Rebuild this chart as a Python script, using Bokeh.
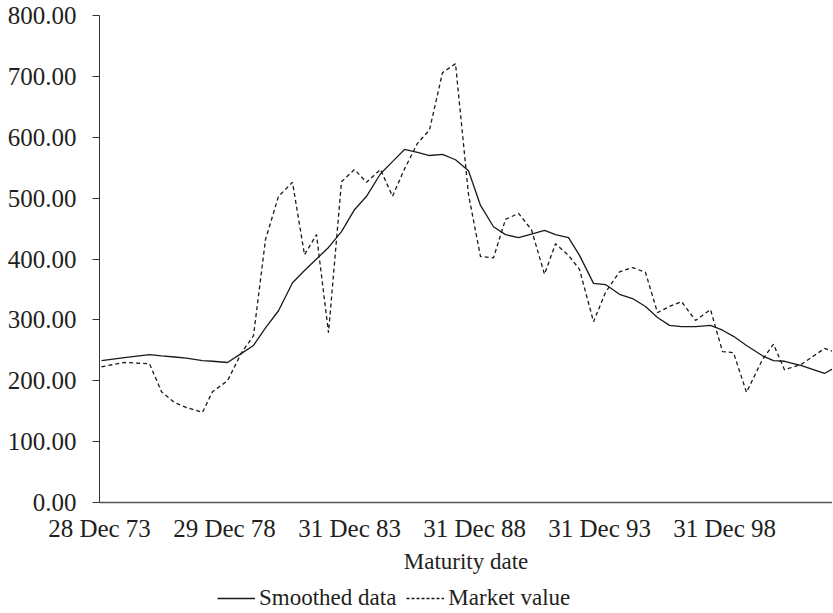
from bokeh.plotting import figure
from bokeh.layouts import column
from bokeh.models import (FixedTicker, Legend, LegendItem, Range1d,
                          NumeralTickFormatter)
from bokeh.embed import file_html
from bokeh.resources import INLINE

# maturity as decimal years
maturity = [1974.07, 1974.99, 1975.99, 1976.47, 1976.99, 1977.47, 1978.11, 1978.51,
            1979.11, 1979.67, 1980.15, 1980.63, 1981.15, 1981.71, 1982.19, 1982.67,
            1983.15, 1983.67, 1984.19, 1984.67, 1985.23, 1985.71, 1986.19, 1986.71,
            1987.19, 1987.71, 1988.23, 1988.75, 1989.23, 1989.75, 1990.23, 1990.75,
            1991.27, 1991.79, 1992.23, 1992.75, 1993.19, 1993.75, 1994.23, 1994.79,
            1995.31, 1995.83, 1996.31, 1996.79, 1997.27, 1997.83, 1998.43, 1998.91,
            1999.35, 1999.87, 2000.51, 2000.95, 2001.39, 2002.07, 2002.99, 2003.47]

smoothed = [233, 238, 243, 241, 239, 237, 233, 232, 230, 245, 258, 287, 315, 361,
            381, 400, 419, 445, 481, 503, 540, 560, 580, 575, 570, 572, 563, 545,
            488, 453, 440, 435, 441, 447, 440, 435, 406, 360, 358, 342, 335, 322,
            304, 291, 289, 289, 291, 283, 273, 258, 241, 233, 232, 225, 212, 223]

market = [223, 230, 228, 182, 164, 156, 148, 182, 200, 246, 274, 432, 503, 526,
          407, 440, 279, 527, 547, 526, 547, 503, 548, 590, 612, 706, 721, 506,
          404, 402, 465, 475, 448, 375, 425, 406, 383, 297, 345, 379, 386, 378,
          312, 322, 330, 299, 317, 248, 246, 181, 235, 260, 218, 227, 253, 246]

x_tick_values = [1973.99, 1978.99, 1983.997, 1988.997, 1993.997, 1998.997]
x_tick_labels = ["28 Dec 73", "29 Dec 78", "31 Dec 83", "31 Dec 88", "31 Dec 93", "31 Dec 98"]
y_tick_values = [0, 100, 200, 300, 400, 500, 600, 700, 800]
series_names = ["Smoothed data", "Market value"]

FONT = "Liberation Serif"
TXT = "#231f20"
LINE = "#1a1a1a"
FS = "23px"
FS_TICK = "25px"

p = figure(frame_width=733, frame_height=487, output_backend="svg", toolbar_location=None,
           x_range=Range1d(1973.99, 2003.31), y_range=Range1d(0, 800))
p.min_border_left = 99
p.min_border_right = 0
p.min_border_top = 15
p.min_border_bottom = 80
p.outline_line_color = None
p.grid.visible = False
p.background_fill_color = "white"
p.border_fill_color = "white"

p.line(maturity, smoothed, line_color=LINE, line_width=1.3)
p.line(maturity, market, line_color=LINE, line_width=1.3, line_dash="4 3")

xa = p.xaxis[0]
xa.ticker = FixedTicker(ticks=x_tick_values)
xa.major_label_overrides = {v: l for v, l in zip(x_tick_values, x_tick_labels)}
xa.major_tick_out = 0
xa.major_tick_in = 0
xa.minor_tick_out = 0
xa.minor_tick_in = 0
xa.axis_line_color = "#555555"
xa.axis_line_width = 1.5
xa.major_label_text_font = FONT
xa.major_label_text_font_size = FS_TICK
xa.major_label_text_color = TXT
xa.major_label_standoff = 12
xa.axis_label = "Maturity date"
xa.axis_label_text_font = FONT
xa.axis_label_text_font_size = FS
xa.axis_label_text_font_style = "normal"
xa.axis_label_text_color = TXT
xa.axis_label_standoff = 4

ya = p.yaxis[0]
ya.ticker = FixedTicker(ticks=y_tick_values)
ya.formatter = NumeralTickFormatter(format="0.00")
ya.major_tick_out = 7
ya.major_tick_in = 0
ya.minor_tick_out = 0
ya.minor_tick_in = 0
ya.axis_line_color = "#333333"
ya.major_tick_line_color = "#333333"
ya.major_label_text_font = FONT
ya.major_label_text_font_size = FS_TICK
ya.major_label_text_color = TXT
ya.major_label_standoff = 16

# legend strip below the chart (series drawn out of its view; only legend shows)
p2 = figure(width=833, height=31, output_backend="svg", toolbar_location=None,
            x_range=Range1d(0, 1), y_range=Range1d(0, 1),
            x_axis_location=None, y_axis_location=None)
p2.min_border = 0
p2.outline_line_color = None
p2.grid.visible = False
k1 = p2.line(maturity, smoothed, line_color=LINE, line_width=1.3)
k2 = p2.line(maturity, market, line_color=LINE, line_width=1.3, line_dash="3 2")
legend = Legend(items=[LegendItem(label=series_names[0], renderers=[k1]),
                       LegendItem(label=series_names[1], renderers=[k2])],
                orientation="horizontal", location=(118, 2),
                border_line_color=None, background_fill_alpha=0,
                label_text_font=FONT, label_text_font_size=FS,
                label_text_color=TXT, glyph_width=38, glyph_height=22,
                spacing=10, margin=0, padding=0, label_standoff=4)
p2.add_layout(legend, "center")

open("out.html", "w").write(file_html(column(p, p2, spacing=0), INLINE))
